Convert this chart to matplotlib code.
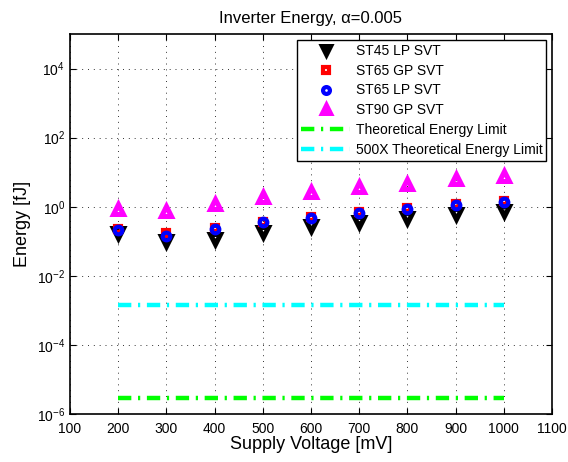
import numpy as np
import matplotlib
matplotlib.use("Agg")
import matplotlib.pyplot as plt
from matplotlib.ticker import FixedLocator, NullLocator

plt.rcParams['font.family'] = ['Liberation Sans', 'DejaVu Sans']

voltage = [200, 300, 400, 500, 600, 700, 800, 900, 1000]
st45_lp = [0.17, 0.105, 0.12, 0.19, 0.27, 0.36, 0.47, 0.62, 0.75]
st65_gp = [0.22, 0.17, 0.25, 0.37, 0.52, 0.70, 0.93, 1.17, 1.45]
st65_lp = [0.21, 0.145, 0.22, 0.35, 0.48, 0.67, 0.88, 1.14, 1.40]
st90_gp = [0.85, 0.75, 1.2, 1.9, 2.7, 3.7, 4.7, 6.2, 7.6]
limit_x = [200, 1000]
theoretical = [2.87e-6, 2.87e-6]
theoretical_500x = [1.435e-3, 1.435e-3]

fig = plt.figure(figsize=(5.68, 4.62), dpi=100)
ax = fig.add_axes([0.1232, 0.1039, 0.8486, 0.8225])

ax.plot(voltage, st45_lp, linestyle='none', marker='v', markersize=7,
        markerfacecolor='none', markeredgecolor='black', markeredgewidth=3.6,
        label='ST45 LP SVT')
ax.plot(voltage, st65_gp, linestyle='none', marker='s', markersize=5,
        markerfacecolor='none', markeredgecolor='red', markeredgewidth=3,
        label='ST65 GP SVT')
ax.plot(voltage, st65_lp, linestyle='none', marker='o', markersize=5.5,
        markerfacecolor='none', markeredgecolor='blue', markeredgewidth=3,
        label='ST65 LP SVT')
ax.plot(voltage, st90_gp, linestyle='none', marker='^', markersize=7,
        markerfacecolor='none', markeredgecolor='magenta', markeredgewidth=3.6,
        label='ST90 GP SVT')
ax.plot(limit_x, theoretical, color='#00ff00', linewidth=3.2,
        linestyle=(0, (3, 1.5, 0.5, 1.5)), label='Theoretical Energy Limit')
ax.plot(limit_x, theoretical_500x, color='cyan', linewidth=3.2,
        linestyle=(0, (3, 1.5, 0.5, 1.5)), label='500X Theoretical Energy Limit')

ax.set_yscale('log')
ax.set_xlim(100, 1100)
ax.set_ylim(1e-6, 1e5)
ax.set_xticks(range(100, 1101, 100))
ax.yaxis.set_major_locator(FixedLocator([1e-6, 1e-4, 1e-2, 1e0, 1e2, 1e4]))
ax.yaxis.set_minor_locator(NullLocator())
ax.tick_params(direction='in', top=True, right=True, labelsize=10, length=4)
ax.tick_params(axis='x', pad=6)
ax.grid(True, color='#333333', linestyle=(0, (1, 5)), linewidth=0.7)
for s in ax.spines.values():
    s.set_linewidth(1.2)

ax.set_xlabel('Supply Voltage [mV]', fontsize=13, labelpad=0)
ax.set_ylabel('Energy [fJ]', fontsize=13, labelpad=4)
ax.set_title('Inverter Energy, α=0.005', fontsize=12, pad=8)

leg = ax.legend(loc='upper right', fontsize=10, fancybox=False, framealpha=1,
                edgecolor='black', borderaxespad=0.4, handlelength=3.5,
                labelspacing=0.42, borderpad=0.3, handletextpad=0.4,
                markerscale=0.9)
leg.get_frame().set_linewidth(1.0)

fig.savefig('out.png', dpi=100)
